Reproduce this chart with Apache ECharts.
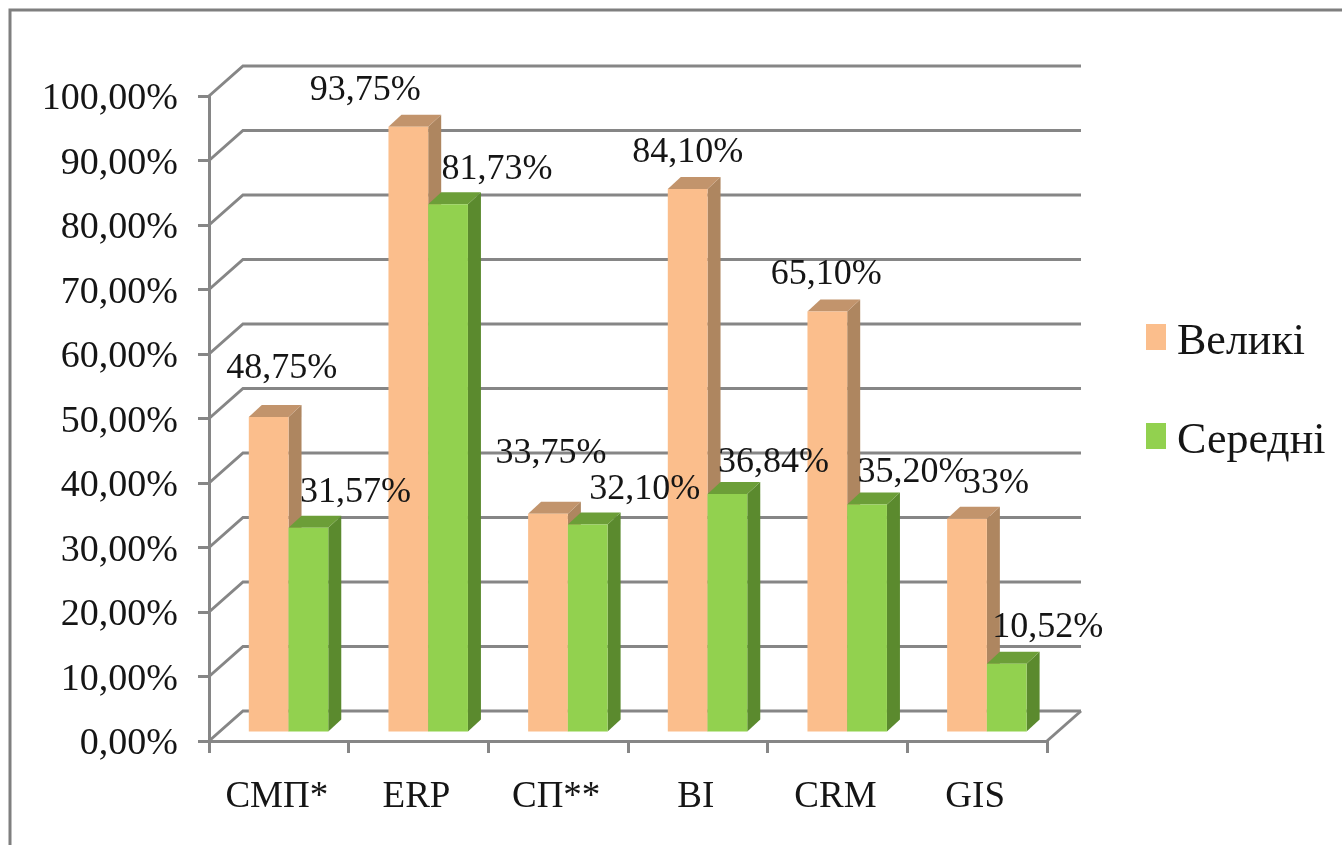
<!DOCTYPE html>
<html>
<head>
<meta charset="utf-8">
<style>html,body{margin:0;padding:0;background:#fff}#c{width:1342px;height:845px}</style>
<script src="https://cdn.jsdelivr.net/npm/echarts@6/dist/echarts.min.js"></script>
</head>
<body>
<div id="c"></div>
<script>
const categories = ['СМП*', 'ERP', 'СП**', 'BI', 'CRM', 'GIS'];
const seriesNames = ['Великі', 'Середні'];
const large = [48.75, 93.75, 33.75, 84.10, 65.10, 33];
const medium = [31.57, 81.73, 32.10, 36.84, 35.20, 10.52];
const largeLabels = ['48,75%', '93,75%', '33,75%', '84,10%', '65,10%', '33%'];
const mediumLabels = ['31,57%', '81,73%', '32,10%', '36,84%', '35,20%', '10,52%'];
const valueTicks = [0, 10, 20, 30, 40, 50, 60, 70, 80, 90, 100];

// label nudges from the top of each bar (layout only)
const largeNudgeX = [13, -43, 3, 0, -1, 29];
const largeNudgeY = [-49, -36, -60, -37, -37, -35];
const mediumNudgeX = [47, 49, 57, 46, 46, 41];
const mediumNudgeY = [-35, -35, -35, -31, -32, -36];

const FONT = '"Liberation Serif", "Times New Roman", serif';
const AXIS = '#868686';
const WALL_DX = 34, WALL_DY = -30;
const BAR_DX = 13, BAR_DY = -12;
const SHIFT_X = 9.7, SHIFT_Y = -9.5;
const BAR_W = 0.2845;

function barRenderer(dir, colors, labels, nudgeX, nudgeY) {
  return function (params, api) {
    const i = api.value(0), v = api.value(1);
    const top = api.coord([i, v]), base = api.coord([i, 0]);
    const w = api.size([1, 0])[0] * BAR_W;
    const xc = top[0] + SHIFT_X;
    const x0 = dir < 0 ? xc - w : xc, x1 = x0 + w;
    const yt = top[1] + SHIFT_Y, yb = base[1] + SHIFT_Y;
    return {
      type: 'group',
      children: [
        { type: 'polygon', shape: { points: [[x1, yt], [x1 + BAR_DX, yt + BAR_DY], [x1 + BAR_DX, yb + BAR_DY], [x1, yb]] }, style: { fill: colors[1] } },
        { type: 'polygon', shape: { points: [[x0, yt], [x0 + BAR_DX, yt + BAR_DY], [x1 + BAR_DX, yt + BAR_DY], [x1, yt]] }, style: { fill: colors[2] } },
        { type: 'rect', shape: { x: x0, y: yt, width: w, height: yb - yt }, style: { fill: colors[0] } },
        { type: 'text', z2: 50, style: { text: labels[i], x: (x0 + x1) / 2 + nudgeX[i], y: yt + nudgeY[i], align: 'center', verticalAlign: 'middle', font: '36px ' + FONT, fill: '#151515' } }
      ]
    };
  };
}

function wallRenderer(params, api) {
  const v = api.value(1);
  const cs = params.coordSys;
  const y = api.coord([0, v])[1];
  const left = cs.x, right = cs.x + cs.width;
  const children = [{
    type: 'polyline',
    shape: { points: [[left, y], [left + WALL_DX, y + WALL_DY], [right + WALL_DX, y + WALL_DY]] },
    style: { stroke: AXIS, lineWidth: 3, fill: 'none' }
  }];
  if (v === valueTicks[0]) {
    children.push({ type: 'line', shape: { x1: right, y1: y, x2: right + WALL_DX, y2: y + WALL_DY }, style: { stroke: AXIS, lineWidth: 3 } });
  }
  return { type: 'group', children };
}

const chart = echarts.init(document.getElementById('c'), null, { renderer: 'canvas' });
chart.setOption({
  backgroundColor: '#fff',
  animation: false,
  graphic: [{
    type: 'polyline', silent: true,
    shape: { points: [[10, 845], [10, 10], [1342, 10]] },
    style: { stroke: '#7f7f7f', lineWidth: 3, fill: 'none' }
  }],
  grid: { left: 209, right: 295, top: 96, bottom: 104 },
  legend: {
    data: seriesNames.map((n, i) => ({ name: n, itemStyle: { color: ['#FBBE8C', '#92D14F'][i] } })),
    orient: 'vertical', left: 1141, top: 315, icon: 'rect',
    itemWidth: 20, itemHeight: 26, itemGap: 55, selectedMode: false,
    formatter: n => '{t|' + n + '}',
    textStyle: {
      rich: { t: { fontFamily: FONT, fontSize: 44, color: '#151515', padding: [10, 0, 0, 6] } }
    }
  },
  xAxis: {
    type: 'category', data: categories,
    axisLine: { lineStyle: { color: AXIS, width: 3 } },
    axisTick: { show: true, length: 12, lineStyle: { color: AXIS, width: 3 } },
    axisLabel: { fontFamily: FONT, fontSize: 37, color: '#151515', margin: 38, padding: [0, 4, 0, 0] }
  },
  yAxis: {
    type: 'value', min: 0, max: 100, interval: 10,
    splitLine: { show: false },
    axisLine: { show: true, lineStyle: { color: AXIS, width: 3 } },
    axisTick: { show: true, length: 11, lineStyle: { color: AXIS, width: 3 } },
    axisLabel: {
      margin: 31,
      formatter: v => '{n|' + v.toFixed(2).replace('.', ',') + '%}',
      rich: { n: { fontFamily: FONT, fontSize: 38, color: '#151515', padding: [7, 0, 0, 0] } }
    }
  },
  series: [
    {
      type: 'custom', name: 'wall', clip: false, silent: true, z: 1,
      data: valueTicks.map(v => [0, v]), encode: { x: 0, y: 1 },
      renderItem: wallRenderer
    },
    {
      type: 'custom', name: seriesNames[0], clip: false, z: 2,
      itemStyle: { color: '#FBBE8C' },
      data: large.map((v, i) => [i, v]), encode: { x: 0, y: 1 },
      renderItem: barRenderer(-1, ['#FBBE8C', '#AE8660', '#C2946C'], largeLabels, largeNudgeX, largeNudgeY)
    },
    {
      type: 'custom', name: seriesNames[1], clip: false, z: 3,
      itemStyle: { color: '#92D14F' },
      data: medium.map((v, i) => [i, v]), encode: { x: 0, y: 1 },
      renderItem: barRenderer(1, ['#92D14F', '#5B8A2E', '#6C9E38'], mediumLabels, mediumNudgeX, mediumNudgeY)
    }
  ]
});
</script>
</body>
</html>
